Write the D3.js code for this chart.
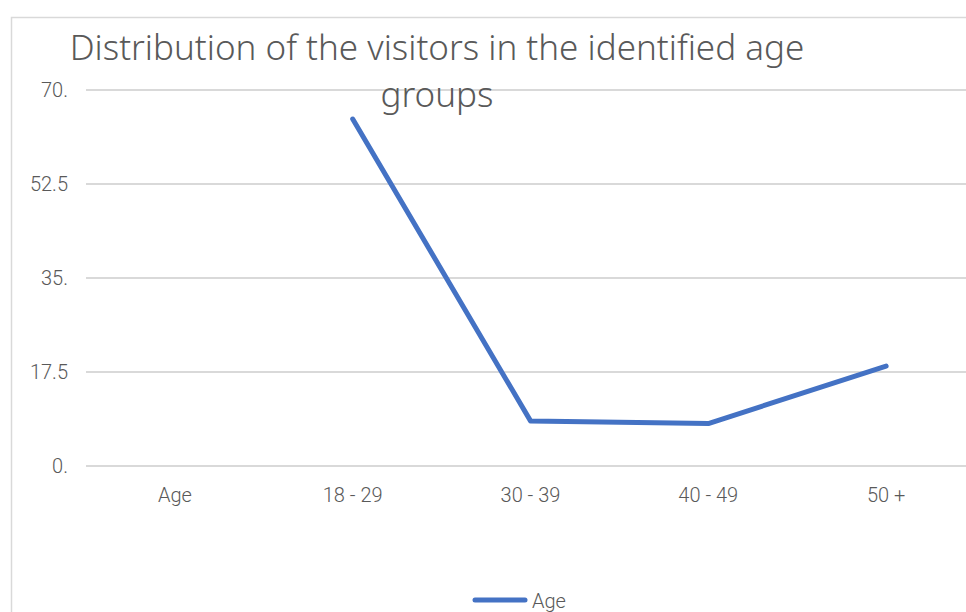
<!DOCTYPE html>
<html>
<head>
<meta charset="utf-8">
<script src="https://cdn.jsdelivr.net/npm/d3@7"></script>
<style>
  body { margin: 0; background: #fff; overflow: hidden; }
  text { fill: #595959; }
</style>
</head>
<body>
<div id="graph"></div>
<script>
let categories = ['Age', '18-29', '30-39', '40-49', '50+'];
let values = [null, 64.6, 8.4, 7.9, 18.6];
let yTicks = [0, 17.5, 35, 52.5, 70];
let yTickLabels = ['0.', '17.5', '35.', '52.5', '70.'];
let seriesName = 'Age';

let width = 966;
let height = 612;
let plotLeft = 86, plotRight = 975, plotTop = 90, plotBottom = 466;

let svg = d3.select('#graph')
    .append('svg')
    .attr('width', width)
    .attr('height', height);

// chart frame (clipped by the window on right/bottom)
svg.append('rect')
    .attr('x', 11.5).attr('y', 17.5)
    .attr('width', 1000).attr('height', 1000)
    .attr('fill', 'none')
    .attr('stroke', '#d9d9d9')
    .attr('stroke-width', 1.5);

let x = d3.scaleBand().domain(categories).range([plotLeft, plotRight]);
let y = d3.scaleLinear().domain([0, 70]).range([plotBottom, plotTop]);

// gridlines
svg.append('g')
    .selectAll('line')
    .data(yTicks)
    .enter().append('line')
    .attr('x1', plotLeft).attr('x2', width)
    .attr('y1', d => y(d)).attr('y2', d => y(d))
    .attr('stroke', '#d9d9d9')
    .attr('stroke-width', 2);

let font = 'Roboto, sans-serif';

// y axis labels
svg.append('g')
    .selectAll('text')
    .data(yTicks)
    .enter().append('text')
    .attr('x', 68)
    .attr('y', d => y(d) + 7)
    .attr('text-anchor', 'end')
    .style('font-family', font)
    .style('font-size', '20px')
    .style('font-weight', 300)
    .text((d, i) => yTickLabels[i]);

// x axis labels
svg.append('g')
    .selectAll('text')
    .data(categories)
    .enter().append('text')
    .attr('x', d => x(d) + x.bandwidth() / 2)
    .attr('y', 502)
    .attr('text-anchor', 'middle')
    .style('font-family', font)
    .style('font-size', '20px')
    .style('font-weight', 300)
    .text(d => d.replace('-', ' - ').replace('+', ' +'));

// line
let line = d3.line()
    .defined(d => d.v != null)
    .x(d => x(d.c) + x.bandwidth() / 2)
    .y(d => y(d.v));

svg.append('path')
    .datum(categories.map((c, i) => ({c: c, v: values[i]})))
    .attr('d', line)
    .attr('fill', 'none')
    .attr('stroke', '#4472c4')
    .attr('stroke-width', 5)
    .attr('stroke-linecap', 'round')
    .attr('stroke-linejoin', 'round');

// title
let title = svg.append('text')
    .attr('text-anchor', 'middle')
    .style('font-family', '"Noto Sans", sans-serif')
    .style('font-size', '35px')
    .style('font-weight', 300);
title.append('tspan').attr('x', 437).attr('y', 60)
    .text('Distribution of the visitors in the identified age');
title.append('tspan').attr('x', 437).attr('y', 107).text('groups');

// legend
svg.append('line')
    .attr('x1', 475).attr('x2', 525)
    .attr('y1', 600).attr('y2', 600)
    .attr('stroke', '#4472c4')
    .attr('stroke-width', 5)
    .attr('stroke-linecap', 'round');
svg.append('text')
    .attr('x', 532).attr('y', 608)
    .style('font-family', font)
    .style('font-size', '20px')
    .style('font-weight', 300)
    .text(seriesName);
</script>
</body>
</html>
